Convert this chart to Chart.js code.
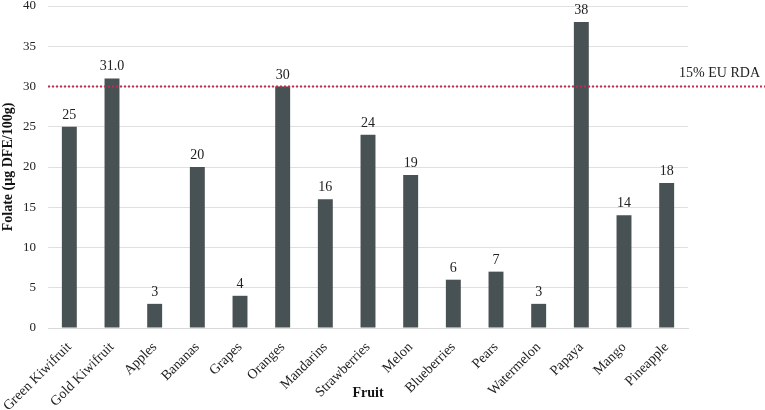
<!DOCTYPE html>
<html><head><meta charset="utf-8">
<script src="https://cdn.jsdelivr.net/npm/chart.js@4"></script>
<style>html,body{margin:0;padding:0;background:#fff}#w{width:765px;height:410px}</style>
</head><body><div id="w"><canvas id="c" width="765" height="410"></canvas></div>
<script>
const categories = ["Green Kiwifruit","Gold Kiwifruit","Apples","Bananas","Grapes","Oranges","Mandarins","Strawberries","Melon","Blueberries","Pears","Watermelon","Papaya","Mango","Pineapple"];
const folate = [25,31,3,20,4,30,16,24,19,6,7,3,38,14,18];
const valueLabels = ["25","31.0","3","20","4","30","16","24","19","6","7","3","38","14","18"];
const rdaValue = 30;
const rdaLabel = "15% EU RDA";
const yTitle = "Folate (µg DFE/100g)";
const xTitle = "Fruit";
const FONT = "'Liberation Serif', 'Times New Roman', serif";

const overlay = {
  id:'overlay',
  afterDatasetsDraw(chart){
    const ctx = chart.ctx;
    const meta = chart.getDatasetMeta(0);
    ctx.save();
    ctx.font = "14px " + FONT;
    ctx.fillStyle = "#222";
    ctx.textAlign = "center";
    ctx.textBaseline = "alphabetic";
    meta.data.forEach((bar,i)=>{
      ctx.fillText(valueLabels[i], bar.x, bar.y - 8);
    });
    const y = chart.scales.y.getPixelForValue(rdaValue);
    ctx.strokeStyle = "#c42a4c";
    ctx.lineWidth = 2;
    ctx.setLineDash([2,2]);
    ctx.beginPath();
    ctx.moveTo(chart.chartArea.left, y);
    ctx.lineTo(chart.width, y);
    ctx.stroke();
    ctx.setLineDash([]);
    ctx.textAlign = "right";
    ctx.fillStyle = "#222";
    ctx.fillText(rdaLabel, chart.width - 5, y - 10);
    ctx.restore();
  }
};

new Chart(document.getElementById('c'), {
  type:'bar',
  data:{labels:categories, datasets:[{data:folate, backgroundColor:'#485153', barPercentage:0.35, categoryPercentage:1}]},
  options:{
    responsive:false, animation:false,
    layout:{padding:{left:0,right:77,top:6,bottom:0}},
    plugins:{legend:{display:false}, tooltip:{enabled:false}},
    scales:{
      x:{
        afterFit(s){ s.height = 82; s.paddingLeft = 0; s.paddingRight = 0; },
        grid:{display:false, drawTicks:false},
        border:{display:true, color:'#d9d9d9'},
        ticks:{color:'#222', font:{family:FONT,size:14}, maxRotation:45, minRotation:45, padding:11, autoSkip:false},
        title:{display:true, text:xTitle, color:'#111', font:{family:FONT,size:14,weight:'bold'}, padding:{top:0,bottom:8}}
      },
      y:{
        afterFit(s){ s.width = 48; s.paddingTop = 0; s.paddingBottom = 0; },
        min:0, max:40,
        ticks:{stepSize:5, color:'#222', font:{family:FONT,size:13}, padding:12},
        grid:{color:'#e0e0e0', drawTicks:false},
        border:{display:false},
        title:{display:true, text:yTitle, color:'#111', font:{family:FONT,size:14,weight:'bold'}, padding:{top:0,bottom:4}}
      }
    }
  },
  plugins:[overlay]
});
</script></body></html>
